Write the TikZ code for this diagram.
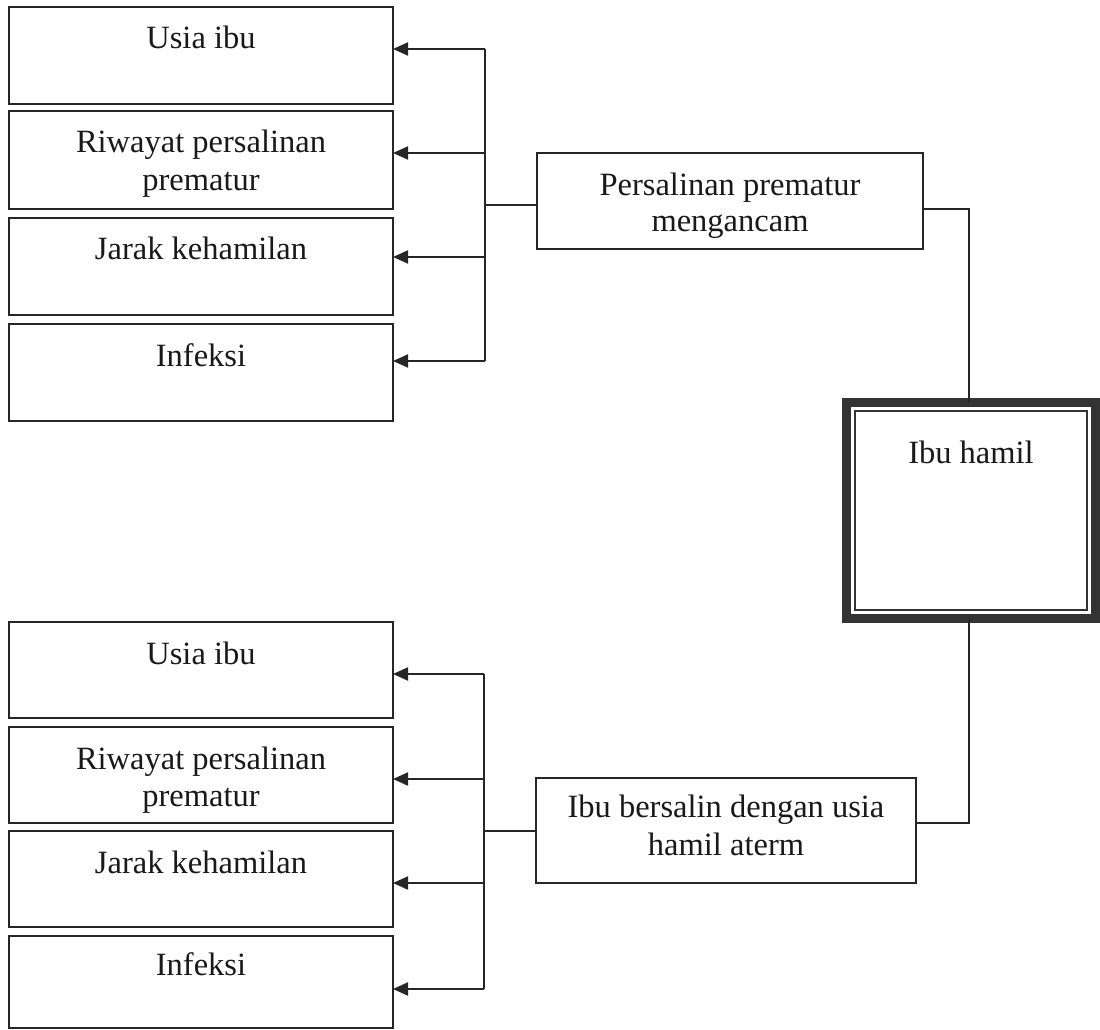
\documentclass[tikz,border=0pt]{standalone}
\usepackage{fontspec}
\setmainfont{Liberation Serif}
\usetikzlibrary{arrows.meta}
\begin{document}
\begin{tikzpicture}[x=1pt,y=-1pt,
  box/.style={draw=black!85,line width=2pt,rectangle,inner sep=0pt,outer sep=0pt,anchor=north west},
  lbl/.style={font=\fontsize{32.5}{37}\selectfont,anchor=base,inner sep=0pt,text=black!90},
  conn/.style={draw=black!85,line width=2pt},
  arr/.style={conn,-{Triangle[length=15pt,width=13pt]}}]
\fill[white] (0,0) rectangle (1100,1030);
\useasboundingbox (0,0) rectangle (1100,1030);
% left column, top group
\node[box,minimum width=384pt,minimum height=97pt] (a1) at (9,7) {};
\node[box,minimum width=384pt,minimum height=98pt] (a2) at (9,111) {};
\node[box,minimum width=384pt,minimum height=97pt] (a3) at (9,218) {};
\node[box,minimum width=384pt,minimum height=97pt] (a4) at (9,324) {};
% left column, bottom group
\node[box,minimum width=384pt,minimum height=96pt] (b1) at (9,622) {};
\node[box,minimum width=384pt,minimum height=96pt] (b2) at (9,727) {};
\node[box,minimum width=384pt,minimum height=96pt] (b3) at (9,831) {};
\node[box,minimum width=384pt,minimum height=92pt] (b4) at (9,936) {};
% middle boxes
\node[box,minimum width=386pt,minimum height=96pt] (p) at (537,153) {};
\node[box,minimum width=380pt,minimum height=105pt] (q) at (536,778) {};
% Ibu hamil
\node[draw=black!80,line width=9pt,rectangle,inner sep=0pt,outer sep=0pt,anchor=north west,
      minimum width=249pt,minimum height=216pt] (ih) at (846.5,402.5) {};
\draw[black!80,line width=2pt] ([shift={(8.5,8.5)}]ih.north west) rectangle ([shift={(-8.5,-8.5)}]ih.south east);

% labels
\node[lbl] (ta1) at (201,49) {Usia ibu};
\node[lbl] (ta2a) at (201,153) {Riwayat persalinan};
\node[lbl] (ta2b) at (201,190) {prematur};
\node[lbl] (ta3) at (201,259) {Jarak kehamilan};
\node[lbl] (ta4) at (201,366) {Infeksi};
\node[lbl] (tb1) at (201,664) {Usia ibu};
\node[lbl] (tb2a) at (201,769) {Riwayat persalinan};
\node[lbl] (tb2b) at (201,806) {prematur};
\node[lbl] (tb3) at (201,873) {Jarak kehamilan};
\node[lbl] (tb4) at (201,975) {Infeksi};
\node[lbl] (tpa) at (730,195) {Persalinan prematur};
\node[lbl] (tpb) at (730,231) {mengancam};
\node[lbl] (tqa) at (726,817) {Ibu bersalin dengan usia};
\node[lbl] (tqb) at (726,855) {hamil aterm};
\node[lbl] (tih) at (971,463) {Ibu hamil};

% coordinates for the bus lines
\coordinate (t1) at (485,49);
\coordinate (t2) at (485,153);
\coordinate (t3) at (485,257);
\coordinate (t4) at (485,361);
\coordinate (tj) at (485,205);
\coordinate (u1) at (484,674);
\coordinate (u2) at (484,779);
\coordinate (u3) at (484,883);
\coordinate (u4) at (484,989);
\coordinate (uj) at (484,831);

% top group connectors
\draw[conn] (t1) -- (t4);
\draw[conn] ([yshift=-52pt]p.north west) -- (tj);
\draw[arr] (t1) -- (a1.east |- t1);
\draw[arr] (t2) -- (a2.east |- t2);
\draw[arr] (t3) -- (a3.east |- t3);
\draw[arr] (t4) -- (a4.east |- t4);
% bottom group connectors
\draw[conn] (u1) -- (u4);
\draw[conn] ([yshift=-53pt]q.north west) -- (uj);
\draw[arr] (u1) -- (b1.east |- u1);
\draw[arr] (u2) -- (b2.east |- u2);
\draw[arr] (u3) -- (b3.east |- u3);
\draw[arr] (u4) -- (b4.east |- u4);
% links to Ibu hamil
\draw[conn] ([yshift=-56pt]p.north east) -| ([xshift=-2pt]ih.north);
\draw[conn] ([xshift=-2pt]ih.south) |- ([yshift=-45pt]q.north east);
\end{tikzpicture}
\end{document}
